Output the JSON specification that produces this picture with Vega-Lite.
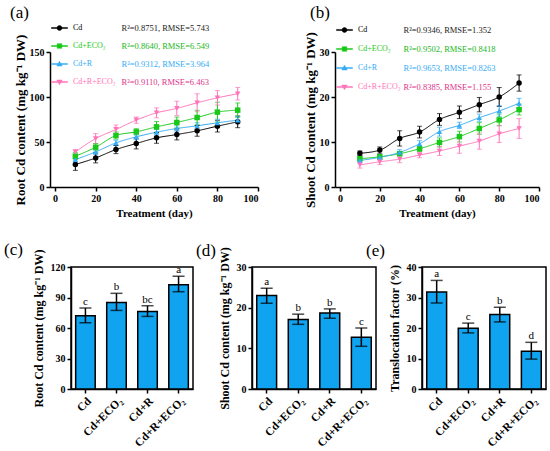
{
  "$schema": "https://vega.github.io/schema/vega-lite/v6.json",
  "padding": {"left": 3, "top": 4, "right": 0, "bottom": 0},
  "datasets": {
    "root_t": [
      {"group": "Cd", "day": 10, "mean": 25, "sd": 6.5}, {"group": "Cd", "day": 20, "mean": 32.3, "sd": 5.5}, {"group": "Cd", "day": 30, "mean": 41.6, "sd": 4.5},
      {"group": "Cd", "day": 40, "mean": 48.3, "sd": 6}, {"group": "Cd", "day": 50, "mean": 54.6, "sd": 6}, {"group": "Cd", "day": 60, "mean": 58.3, "sd": 6},
      {"group": "Cd", "day": 70, "mean": 62.4, "sd": 6}, {"group": "Cd", "day": 80, "mean": 67.6, "sd": 6.5}, {"group": "Cd", "day": 90, "mean": 72.4, "sd": 6.5},
      {"group": "Cd+ECO₂", "day": 10, "mean": 34.2, "sd": 4}, {"group": "Cd+ECO₂", "day": 20, "mean": 44.2, "sd": 4}, {"group": "Cd+ECO₂", "day": 30, "mean": 57.2, "sd": 4},
      {"group": "Cd+ECO₂", "day": 40, "mean": 61.3, "sd": 3.5}, {"group": "Cd+ECO₂", "day": 50, "mean": 66.8, "sd": 6}, {"group": "Cd+ECO₂", "day": 60, "mean": 71.7, "sd": 6},
      {"group": "Cd+ECO₂", "day": 70, "mean": 77.2, "sd": 8}, {"group": "Cd+ECO₂", "day": 80, "mean": 83.2, "sd": 11}, {"group": "Cd+ECO₂", "day": 90, "mean": 85.4, "sd": 8},
      {"group": "Cd+R", "day": 10, "mean": 30.4, "sd": 3}, {"group": "Cd+R", "day": 20, "mean": 39, "sd": 3}, {"group": "Cd+R", "day": 30, "mean": 49, "sd": 3},
      {"group": "Cd+R", "day": 40, "mean": 55.7, "sd": 3}, {"group": "Cd+R", "day": 50, "mean": 60.9, "sd": 3}, {"group": "Cd+R", "day": 60, "mean": 65, "sd": 3},
      {"group": "Cd+R", "day": 70, "mean": 68, "sd": 3.5}, {"group": "Cd+R", "day": 80, "mean": 71.3, "sd": 4}, {"group": "Cd+R", "day": 90, "mean": 74.3, "sd": 4},
      {"group": "Cd+R+ECO₂", "day": 10, "mean": 39, "sd": 2.5}, {"group": "Cd+R+ECO₂", "day": 20, "mean": 53.8, "sd": 5.5}, {"group": "Cd+R+ECO₂", "day": 30, "mean": 63.9, "sd": 5},
      {"group": "Cd+R+ECO₂", "day": 40, "mean": 74.3, "sd": 3.5}, {"group": "Cd+R+ECO₂", "day": 50, "mean": 82.4, "sd": 5.5}, {"group": "Cd+R+ECO₂", "day": 60, "mean": 87.3, "sd": 8},
      {"group": "Cd+R+ECO₂", "day": 70, "mean": 93.6, "sd": 10}, {"group": "Cd+R+ECO₂", "day": 80, "mean": 99.1, "sd": 8}, {"group": "Cd+R+ECO₂", "day": 90, "mean": 103.6, "sd": 7}
    ],
    "shoot_t": [
      {"group": "Cd", "day": 10, "mean": 7.5, "sd": 0.5}, {"group": "Cd", "day": 20, "mean": 8.2, "sd": 0.7}, {"group": "Cd", "day": 30, "mean": 10.8, "sd": 1.7},
      {"group": "Cd", "day": 40, "mean": 12.2, "sd": 1.3}, {"group": "Cd", "day": 50, "mean": 15, "sd": 1.3}, {"group": "Cd", "day": 60, "mean": 16.6, "sd": 1.4},
      {"group": "Cd", "day": 70, "mean": 18.3, "sd": 1.6}, {"group": "Cd", "day": 80, "mean": 20, "sd": 2.1}, {"group": "Cd", "day": 90, "mean": 23.1, "sd": 1.8},
      {"group": "Cd+ECO₂", "day": 10, "mean": 6.3, "sd": 0.5}, {"group": "Cd+ECO₂", "day": 20, "mean": 6.7, "sd": 0.5}, {"group": "Cd+ECO₂", "day": 30, "mean": 7.4, "sd": 0.5},
      {"group": "Cd+ECO₂", "day": 40, "mean": 8.5, "sd": 0.6}, {"group": "Cd+ECO₂", "day": 50, "mean": 9.9, "sd": 1}, {"group": "Cd+ECO₂", "day": 60, "mean": 11.2, "sd": 1.2},
      {"group": "Cd+ECO₂", "day": 70, "mean": 13, "sd": 1.3}, {"group": "Cd+ECO₂", "day": 80, "mean": 14.9, "sd": 1.3}, {"group": "Cd+ECO₂", "day": 90, "mean": 17.2, "sd": 1.2},
      {"group": "Cd+R", "day": 10, "mean": 5.9, "sd": 0.5}, {"group": "Cd+R", "day": 20, "mean": 6.6, "sd": 0.5}, {"group": "Cd+R", "day": 30, "mean": 7.7, "sd": 0.6},
      {"group": "Cd+R", "day": 40, "mean": 9.6, "sd": 0.7}, {"group": "Cd+R", "day": 50, "mean": 12.3, "sd": 1}, {"group": "Cd+R", "day": 60, "mean": 13.7, "sd": 0.7},
      {"group": "Cd+R", "day": 70, "mean": 15.4, "sd": 0.8}, {"group": "Cd+R", "day": 80, "mean": 16.9, "sd": 1.2}, {"group": "Cd+R", "day": 90, "mean": 18.6, "sd": 1.1},
      {"group": "Cd+R+ECO₂", "day": 10, "mean": 4.9, "sd": 0.7}, {"group": "Cd+R+ECO₂", "day": 20, "mean": 5.6, "sd": 0.6}, {"group": "Cd+R+ECO₂", "day": 30, "mean": 6.2, "sd": 0.8},
      {"group": "Cd+R+ECO₂", "day": 40, "mean": 7.1, "sd": 0.6}, {"group": "Cd+R+ECO₂", "day": 50, "mean": 8, "sd": 1}, {"group": "Cd+R+ECO₂", "day": 60, "mean": 9.1, "sd": 1.6},
      {"group": "Cd+R+ECO₂", "day": 70, "mean": 10.2, "sd": 1.8}, {"group": "Cd+R+ECO₂", "day": 80, "mean": 11.8, "sd": 1.9}, {"group": "Cd+R+ECO₂", "day": 90, "mean": 13, "sd": 2.2}
    ],
    "fit_a": [
      {"group": "Cd", "stat": "R²=0.8751, RMSE=5.743"},
      {"group": "Cd+ECO₂", "stat": "R²=0.8640, RMSE=6.549"},
      {"group": "Cd+R", "stat": "R²=0.9312, RMSE=3.964"},
      {"group": "Cd+R+ECO₂", "stat": "R²=0.9110, RMSE=6.463"}
    ],
    "fit_b": [
      {"group": "Cd", "stat": "R²=0.9346, RMSE=1.352"},
      {"group": "Cd+ECO₂", "stat": "R²=0.9502, RMSE=0.8418"},
      {"group": "Cd+R", "stat": "R²=0.9653, RMSE=0.8263"},
      {"group": "Cd+R+ECO₂", "stat": "R²=0.8385, RMSE=1.155"}
    ],
    "bars": [
      {"treat": "Cd", "root": 72, "root_lo": 65.1, "root_hi": 79.6, "root_sig": "c", "shoot": 23, "shoot_lo": 21.1, "shoot_hi": 24.8, "shoot_sig": "a", "tf": 31.8, "tf_lo": 28.2, "tf_hi": 35.6, "tf_sig": "a"},
      {"treat": "Cd+ECO₂", "root": 85.2, "root_lo": 77.3, "root_hi": 94.1, "root_sig": "b", "shoot": 17.1, "shoot_lo": 15.9, "shoot_hi": 18.4, "shoot_sig": "b", "tf": 19.9, "tf_lo": 18.4, "tf_hi": 21.6, "tf_sig": "c"},
      {"treat": "Cd+R", "root": 76.3, "root_lo": 71.4, "root_hi": 81.9, "root_sig": "bc", "shoot": 18.7, "shoot_lo": 17.4, "shoot_hi": 19.7, "shoot_sig": "b", "tf": 24.4, "tf_lo": 22, "tf_hi": 26.8, "tf_sig": "b"},
      {"treat": "Cd+R+ECO₂", "root": 102.6, "root_lo": 95.7, "root_hi": 110.9, "root_sig": "a", "shoot": 12.7, "shoot_lo": 10.5, "shoot_hi": 15, "shoot_sig": "c", "tf": 12.4, "tf_lo": 9.8, "tf_hi": 15.3, "tf_sig": "d"}
    ]
  },
  "vconcat": [
    {
      "hconcat": [
        {
          "width": 208,
          "height": 135,
          "title": {"text": "(a)", "dx": -40, "dy": 3},
          "data": {"name": "root_t"},
          "transform": [{"lookup": "group", "from": {"data": {"name": "fit_a"}, "key": "group", "fields": ["stat"]}}],
          "encoding": {
            "x": {"field": "day", "type": "quantitative", "scale": {"domain": [-2.5, 100], "nice": false}, "axis": {"values": [0, 20, 40, 60, 80, 100], "tickCount": 10, "title": "Treatment (day)"}},
            "y": {"field": "mean", "type": "quantitative", "scale": {"domain": [0, 150]}, "axis": {"values": [0, 50, 100, 150], "tickCount": 10, "title": "Root Cd content (mg kg⁻¹ DW)", "titleFontSize": 13, "titlePadding": 2}},
            "color": {
              "field": "group", "type": "nominal",
              "scale": {"domain": ["Cd", "Cd+ECO₂", "Cd+R", "Cd+R+ECO₂"], "range": ["#000000", "#19C819", "#35ACF5", "#FF73B9"]},
              "legend": {
                "orient": "none", "legendX": 1, "legendY": -29, "title": null, "padding": 0,
                "symbolSize": 256, "symbolOpacity": 1, "symbolStrokeWidth": 0.5, "clipHeight": 10, "rowPadding": 8, "labelOffset": 5, "labelFontSize": 8,
                "encode": {
                  "labels": {"update": {"fill": {"signal": "datum.value == 'Cd' ? '#000000' : datum.value == 'Cd+ECO₂' ? '#19C819' : datum.value == 'Cd+R' ? '#35ACF5' : '#FF73B9'"}}}
                }
              }
            }
          },
          "layer": [
            {
              "mark": {"type": "point", "filled": true, "opacity": 0},
              "encoding": {
                "shape": {"field": "group", "type": "nominal", "scale": {"domain": ["Cd", "Cd+ECO₂", "Cd+R", "Cd+R+ECO₂"], "range": [
                  "M-1,-0.07H1V0.07H-1ZM0.31,0A0.31,0.31,0,1,1,-0.31,0A0.31,0.31,0,1,1,0.31,0Z",
                  "M-1,-0.07H1V0.07H-1ZM-0.29,-0.29H0.29V0.29H-0.29Z",
                  "M-1,-0.07H1V0.07H-1ZM0,-0.34L0.34,0.25H-0.34Z",
                  "M-1,-0.07H1V0.07H-1ZM0,0.34L-0.34,-0.25H0.34Z"
                ]}}
              }
            },
            {
              "mark": {"type": "line", "interpolate": "monotone", "strokeWidth": 1},
              "encoding": {
                "strokeDash": {
                  "field": "stat", "type": "nominal",
                  "scale": {"domain": ["R²=0.8751, RMSE=5.743", "R²=0.8640, RMSE=6.549", "R²=0.9312, RMSE=3.964", "R²=0.9110, RMSE=6.463"], "range": [[1, 0], [1, 0], [1, 0], [1, 0]]},
                  "legend": {
                    "orient": "none", "legendX": 63, "legendY": -29, "title": null, "padding": 0,
                    "symbolSize": 0, "symbolStrokeWidth": 0, "symbolOpacity": 0, "clipHeight": 10, "rowPadding": 8, "labelOffset": 0, "labelFontSize": 8.5, "labelLimit": 200,
                    "encode": {"labels": {"update": {"fill": {"signal": "indexof(datum.value, '0.8751') >= 0 ? '#222222' : indexof(datum.value, '0.8640') >= 0 ? '#19B819' : indexof(datum.value, '0.9312') >= 0 ? '#35ACF5' : '#E0338A'"}}}}
                  }
                }
              }
            },
            {
              "mark": {"type": "errorbar", "ticks": {"size": 5}, "thickness": 1},
              "encoding": {"yError": {"field": "sd"}}
            },
            {
              "mark": {"type": "point", "filled": true, "size": 30, "opacity": 1},
              "encoding": {
                "shape": {"condition": [{"test": "datum.group === 'Cd+ECO₂'", "value": "square"}, {"test": "datum.group === 'Cd+R'", "value": "triangle-up"}, {"test": "datum.group === 'Cd+R+ECO₂'", "value": "triangle-down"}], "value": "circle"}
              }
            }
          ]
        },
        {
          "width": 204,
          "height": 135,
          "title": {"text": "(b)", "dx": -25, "dy": 1},
          "data": {"name": "shoot_t"},
          "transform": [{"lookup": "group", "from": {"data": {"name": "fit_b"}, "key": "group", "fields": ["stat"]}}],
          "encoding": {
            "x": {"field": "day", "type": "quantitative", "scale": {"domain": [-2.5, 100], "nice": false}, "axis": {"values": [0, 20, 40, 60, 80, 100], "tickCount": 10, "title": "Treatment (day)"}},
            "y": {"field": "mean", "type": "quantitative", "scale": {"domain": [0, 30]}, "axis": {"values": [0, 10, 20, 30], "tickCount": 10, "title": "Shoot Cd content (mg kg⁻¹ DW)", "titleFontSize": 13, "titlePadding": 2}},
            "color": {
              "field": "group", "type": "nominal",
              "scale": {"domain": ["Cd", "Cd+ECO₂", "Cd+R", "Cd+R+ECO₂"], "range": ["#000000", "#19C819", "#35ACF5", "#FF73B9"]},
              "legend": {
                "orient": "none", "legendX": 1, "legendY": -27, "title": null, "padding": 0,
                "symbolSize": 256, "symbolOpacity": 1, "symbolStrokeWidth": 0.5, "clipHeight": 10, "rowPadding": 9, "labelOffset": 5, "labelFontSize": 8,
                "encode": {
                  "labels": {"update": {"fill": {"signal": "datum.value == 'Cd' ? '#000000' : datum.value == 'Cd+ECO₂' ? '#19C819' : datum.value == 'Cd+R' ? '#35ACF5' : '#FF73B9'"}}}
                }
              }
            }
          },
          "layer": [
            {
              "mark": {"type": "point", "filled": true, "opacity": 0},
              "encoding": {
                "shape": {"field": "group", "type": "nominal", "scale": {"domain": ["Cd", "Cd+ECO₂", "Cd+R", "Cd+R+ECO₂"], "range": [
                  "M-1,-0.07H1V0.07H-1ZM0.31,0A0.31,0.31,0,1,1,-0.31,0A0.31,0.31,0,1,1,0.31,0Z",
                  "M-1,-0.07H1V0.07H-1ZM-0.29,-0.29H0.29V0.29H-0.29Z",
                  "M-1,-0.07H1V0.07H-1ZM0,-0.34L0.34,0.25H-0.34Z",
                  "M-1,-0.07H1V0.07H-1ZM0,0.34L-0.34,-0.25H0.34Z"
                ]}}
              }
            },
            {
              "mark": {"type": "line", "interpolate": "monotone", "strokeWidth": 1},
              "encoding": {
                "strokeDash": {
                  "field": "stat", "type": "nominal",
                  "scale": {"domain": ["R²=0.9346, RMSE=1.352", "R²=0.9502, RMSE=0.8418", "R²=0.9653, RMSE=0.8263", "R²=0.8385, RMSE=1.155"], "range": [[1, 0], [1, 0], [1, 0], [1, 0]]},
                  "legend": {
                    "orient": "none", "legendX": 60, "legendY": -27, "title": null, "padding": 0,
                    "symbolSize": 0, "symbolStrokeWidth": 0, "symbolOpacity": 0, "clipHeight": 10, "rowPadding": 9, "labelOffset": 0, "labelFontSize": 8.5, "labelLimit": 200,
                    "encode": {"labels": {"update": {"fill": {"signal": "indexof(datum.value, '0.9346') >= 0 ? '#222222' : indexof(datum.value, '0.9502') >= 0 ? '#19B819' : indexof(datum.value, '0.9653') >= 0 ? '#35ACF5' : '#E0338A'"}}}}
                  }
                }
              }
            },
            {
              "mark": {"type": "errorbar", "ticks": {"size": 5}, "thickness": 1},
              "encoding": {"yError": {"field": "sd"}}
            },
            {
              "mark": {"type": "point", "filled": true, "size": 30, "opacity": 1},
              "encoding": {
                "shape": {"condition": [{"test": "datum.group === 'Cd+ECO₂'", "value": "square"}, {"test": "datum.group === 'Cd+R'", "value": "triangle-up"}, {"test": "datum.group === 'Cd+R+ECO₂'", "value": "triangle-down"}], "value": "circle"}
              }
            }
          ]
        }
      ],
      "spacing": 77,
      "bounds": "flush",
      "resolve": {"scale": {"color": "independent", "shape": "independent", "strokeDash": "independent"}, "legend": {"color": "independent", "shape": "independent", "strokeDash": "independent"}}
    },
    {
      "hconcat": [
        {"width": 21, "height": 10, "data": {"values": []}, "mark": "point"},
        {
          "hconcat": [
            {
              "width": 122,
              "height": 122,
              "view": {"stroke": "black", "strokeWidth": 1.5},
              "title": {"text": "(c)", "dx": -67, "dy": 14},
              "data": {"name": "bars"},
              "encoding": {
                "x": {"field": "treat", "type": "nominal", "sort": null, "scale": {"paddingInner": 0.37, "paddingOuter": 0.15}, "axis": {"title": null, "labelAngle": -45, "labelFontSize": 11.5}}
              },
              "layer": [
                {"mark": {"type": "bar", "color": "#0FA3F0", "stroke": "black", "strokeWidth": 1.5}, "encoding": {"y": {"field": "root", "type": "quantitative", "title": "Root Cd content (mg kg⁻¹ DW)", "scale": {"domain": [0, 120]}, "axis": {"values": [0, 30, 60, 90, 120], "tickCount": 10, "titleFontSize": 12, "titlePadding": 5}}}},
                {"mark": {"type": "errorbar", "ticks": {"size": 12}, "color": "black", "thickness": 1.5}, "encoding": {"y": {"field": "root_lo", "type": "quantitative", "title": "Root Cd content (mg kg⁻¹ DW)"}, "y2": {"field": "root_hi"}}},
                {"mark": {"type": "text", "baseline": "bottom", "dy": -1, "fontSize": 11}, "encoding": {"y": {"field": "root_hi", "type": "quantitative", "title": "Root Cd content (mg kg⁻¹ DW)"}, "text": {"field": "root_sig"}}}
              ]
            },
            {
              "hconcat": [
                {
                  "width": 124,
                  "height": 122,
                  "view": {"stroke": "black", "strokeWidth": 1.5},
                  "title": {"text": "(d)", "dx": -56, "dy": 17},
                  "data": {"name": "bars"},
                  "encoding": {
                    "x": {"field": "treat", "type": "nominal", "sort": null, "scale": {"paddingInner": 0.37, "paddingOuter": 0.15}, "axis": {"title": null, "labelAngle": -45, "labelFontSize": 11.5}}
                  },
                  "layer": [
                    {"mark": {"type": "bar", "color": "#0FA3F0", "stroke": "black", "strokeWidth": 1.5}, "encoding": {"y": {"field": "shoot", "type": "quantitative", "title": "Shoot Cd content (mg kg⁻¹ DW)", "scale": {"domain": [0, 30]}, "axis": {"values": [0, 10, 20, 30], "tickCount": 10, "titleFontSize": 12, "titlePadding": 5}}}},
                    {"mark": {"type": "errorbar", "ticks": {"size": 12}, "color": "black", "thickness": 1.5}, "encoding": {"y": {"field": "shoot_lo", "type": "quantitative", "title": "Shoot Cd content (mg kg⁻¹ DW)"}, "y2": {"field": "shoot_hi"}}},
                    {"mark": {"type": "text", "baseline": "bottom", "dy": -1, "fontSize": 11}, "encoding": {"y": {"field": "shoot_hi", "type": "quantitative", "title": "Shoot Cd content (mg kg⁻¹ DW)"}, "text": {"field": "shoot_sig"}}}
                  ]
                },
                {
                  "width": 124,
                  "height": 122,
                  "view": {"stroke": "black", "strokeWidth": 1.5},
                  "title": {"text": "(e)", "dx": -56, "dy": 1.5},
                  "data": {"name": "bars"},
                  "encoding": {
                    "x": {"field": "treat", "type": "nominal", "sort": null, "scale": {"paddingInner": 0.37, "paddingOuter": 0.15}, "axis": {"title": null, "labelAngle": -45, "labelFontSize": 11.5}}
                  },
                  "layer": [
                    {"mark": {"type": "bar", "color": "#0FA3F0", "stroke": "black", "strokeWidth": 1.5}, "encoding": {"y": {"field": "tf", "type": "quantitative", "title": "Translocation factor (%)", "scale": {"domain": [0, 40]}, "axis": {"values": [0, 10, 20, 30, 40], "tickCount": 10, "titleFontSize": 12, "titlePadding": 5}}}},
                    {"mark": {"type": "errorbar", "ticks": {"size": 12}, "color": "black", "thickness": 1.5}, "encoding": {"y": {"field": "tf_lo", "type": "quantitative", "title": "Translocation factor (%)"}, "y2": {"field": "tf_hi"}}},
                    {"mark": {"type": "text", "baseline": "bottom", "dy": -1, "fontSize": 11}, "encoding": {"y": {"field": "tf_hi", "type": "quantitative", "title": "Translocation factor (%)"}, "text": {"field": "tf_sig"}}}
                  ]
                }
              ],
              "spacing": 46,
              "bounds": "flush"
            }
          ],
          "spacing": 59,
          "bounds": "flush"
        }
      ],
      "spacing": 0,
      "bounds": "flush"
    }
  ],
  "spacing": 22,
  "config": {
    "font": "Liberation Serif",
    "view": {"stroke": null},
    "axis": {
      "labelFont": "Liberation Serif", "labelFontWeight": "bold", "labelFontSize": 10, "labelColor": "black", "labelOverlap": false,
      "titleFont": "Liberation Serif", "titleFontWeight": "bold", "titleFontSize": 11, "titleColor": "black",
      "domainColor": "black", "domainWidth": 1.5, "tickColor": "black", "tickWidth": 1.5, "tickSize": 4, "grid": false, "labelPadding": 2
    },
    "legend": {"labelFont": "Liberation Serif"},
    "title": {"font": "Liberation Serif", "fontSize": 17, "fontWeight": "normal", "anchor": "start", "frame": "group", "color": "black"},
    "text": {"font": "Liberation Serif"}
  }
}
